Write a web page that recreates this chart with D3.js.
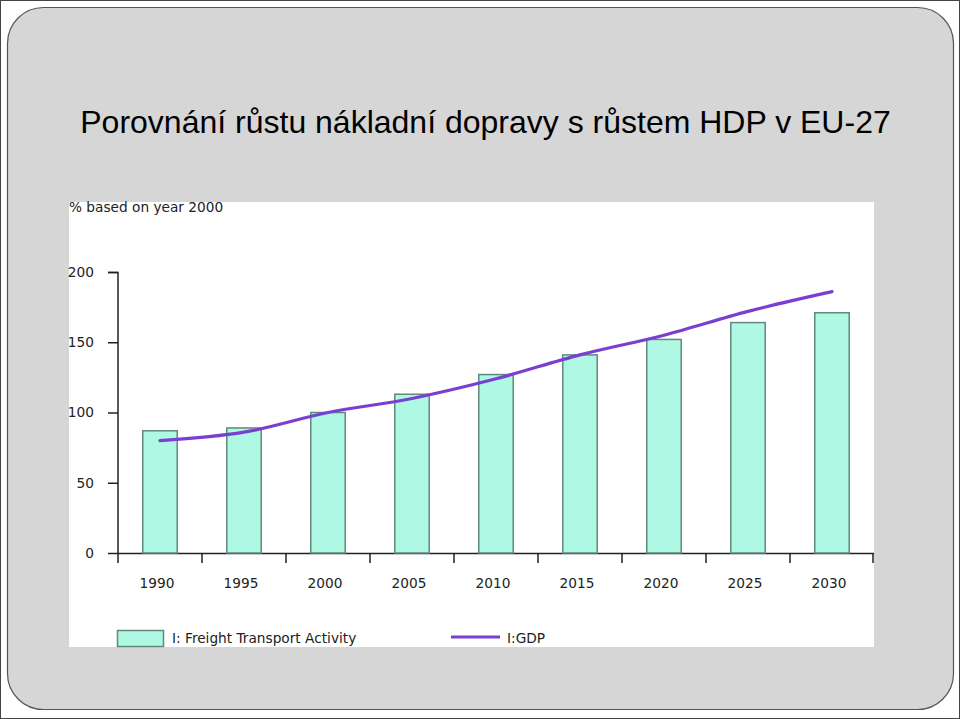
<!DOCTYPE html>
<html>
<head>
<meta charset="utf-8">
<script src="https://cdn.jsdelivr.net/npm/d3@7"></script>
<style>
  html, body { margin: 0; padding: 0; background: #fff; }
  svg { display: block; }
</style>
</head>
<body>
<svg id="chart"></svg>
<script>
// data
const years = ["1990", "1995", "2000", "2005", "2010", "2015", "2020", "2025", "2030"];
const freight = [87, 89, 100, 113, 127, 141, 152, 164, 171];
const gdp = [80, 86, 100, 110, 124, 141, 155, 172, 186];
const yTicks = [0, 50, 100, 150, 200];

const W = 960, H = 719;
const svg = d3.select("#chart").attr("width", W).attr("height", H);

// slide frame
svg.append("rect")
  .attr("x", 0.5).attr("y", 0.5)
  .attr("width", W - 1).attr("height", H - 1)
  .attr("fill", "#fff").attr("stroke", "#444");
svg.append("rect")
  .attr("x", 7.5).attr("y", 7.5)
  .attr("width", 946).attr("height", 702)
  .attr("rx", 36).attr("ry", 36)
  .attr("fill", "#d6d6d6").attr("stroke", "#555").attr("stroke-width", 1.2);

svg.append("text")
  .attr("x", 485.5).attr("y", 133)
  .attr("text-anchor", "middle")
  .style("font-family", "'Liberation Sans', Arial, sans-serif")
  .style("font-size", "32px")
  .attr("fill", "#000")
  .text("Porovnání růstu nákladní dopravy s růstem HDP v EU-27");

// chart picture area
const chart = svg.append("g");
chart.append("rect")
  .attr("x", 69).attr("y", 202)
  .attr("width", 805).attr("height", 445)
  .attr("fill", "#fff");

const font = "'DejaVu Sans', Verdana, sans-serif";
const fs = "13.7px";
const ink = "#222";

const x = d3.scaleBand().domain(years).range([118, 874]).paddingInner(0.59).paddingOuter(0.295);
const xb = d3.scaleBand().domain(years).range([118, 874]);
const y = d3.scaleLinear().domain([0, 200]).range([553, 272]);

chart.append("text")
  .attr("x", 69).attr("y", 212)
  .style("font-family", font).style("font-size", fs)
  .attr("fill", ink)
  .text("% based on year 2000");

// y axis
const yAxis = chart.append("g").attr("transform", "translate(118,0)")
  .call(d3.axisLeft(y).tickValues(yTicks).tickSize(10).tickPadding(14));
yAxis.select(".domain").attr("stroke", "#222").attr("stroke-width", 1.5).attr("d", "M-10,272.5H0V553.5");
yAxis.selectAll(".tick line").attr("stroke", "#222").attr("stroke-width", 1.5);
yAxis.selectAll("text").style("font-family", font).style("font-size", fs).attr("fill", ink);

// x axis with ticks on band boundaries
const xg = chart.append("g");
const edges = years.map(d => xb(d)).concat([xb.range()[1] - 1]);
xg.append("line")
  .attr("x1", 118).attr("x2", 874).attr("y1", 553.5).attr("y2", 553.5)
  .attr("stroke", "#222").attr("stroke-width", 1.5);
xg.selectAll("line.tk")
  .data(edges)
  .join("line").attr("class", "tk")
  .attr("x1", d => d).attr("x2", d => d)
  .attr("y1", 553).attr("y2", 563)
  .attr("stroke", "#222").attr("stroke-width", 1.5);
xg.selectAll("text")
  .data(years)
  .join("text")
  .attr("x", d => xb(d) + xb.bandwidth() / 2 - 3)
  .attr("y", 588)
  .attr("text-anchor", "middle")
  .style("font-family", font).style("font-size", fs)
  .attr("fill", ink)
  .text(d => d);

// bars
chart.selectAll("rect.bar")
  .data(freight)
  .join("rect").attr("class", "bar")
  .attr("x", (d, i) => x(years[i]))
  .attr("y", d => y(d))
  .attr("width", x.bandwidth())
  .attr("height", d => y(0) - y(d))
  .attr("fill", "#aef8e4")
  .attr("stroke", "#5f8a7c")
  .attr("stroke-width", 1.5);

// gdp line
const line = d3.line()
  .x((d, i) => xb(years[i]) + xb.bandwidth() / 2)
  .y(d => y(d))
  .curve(d3.curveMonotoneX);
chart.append("path")
  .datum(gdp)
  .attr("d", line)
  .attr("fill", "none")
  .attr("stroke", "#7a3fd2")
  .attr("stroke-width", 3.2)
  .attr("stroke-linecap", "round");

// legend
const lg = chart.append("g");
lg.append("rect")
  .attr("x", 117.5).attr("y", 630.5).attr("width", 46).attr("height", 16)
  .attr("fill", "#aef8e4").attr("stroke", "#5f8a7c").attr("stroke-width", 1.5);
lg.append("text")
  .attr("x", 172).attr("y", 643)
  .style("font-family", font).style("font-size", fs).attr("fill", ink)
  .text("I: Freight Transport Activity");
lg.append("line")
  .attr("x1", 451).attr("x2", 500).attr("y1", 637).attr("y2", 637)
  .attr("stroke", "#7a3fd2").attr("stroke-width", 3.2);
lg.append("text")
  .attr("x", 507).attr("y", 643)
  .style("font-family", font).style("font-size", fs).attr("fill", ink)
  .text("I:GDP");
</script>
</body>
</html>
